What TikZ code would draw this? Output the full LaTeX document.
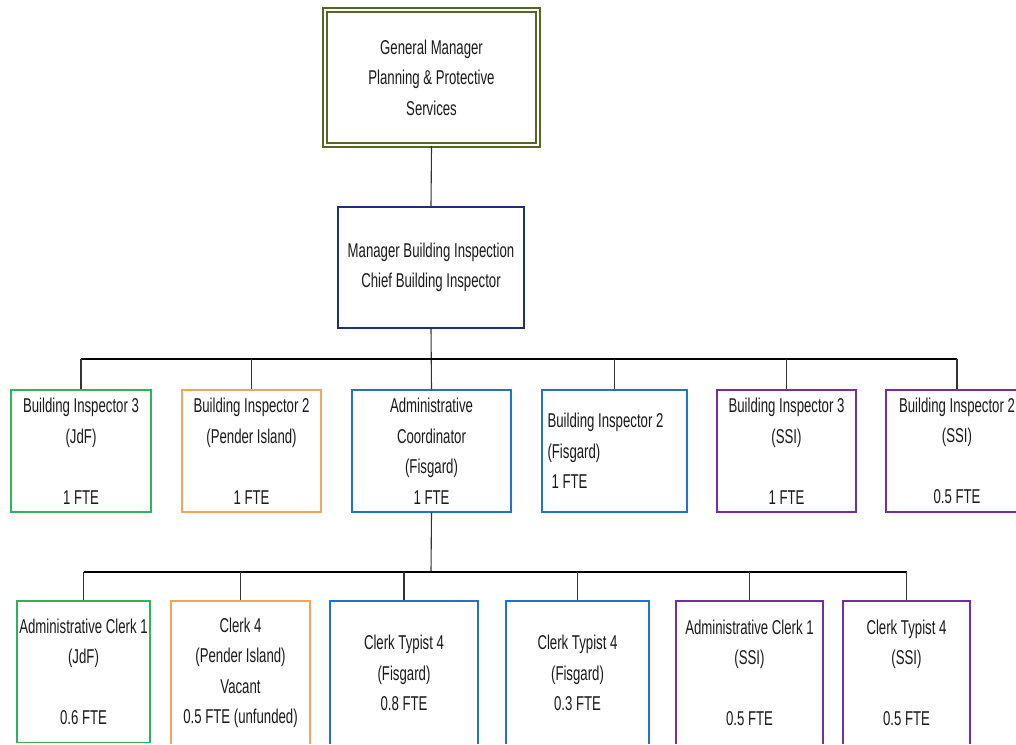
\documentclass[tikz,border=0pt]{standalone}
\usepackage{fontspec}
\setmainfont{Liberation Sans}[FakeStretch=0.66]
\definecolor{olivebox}{HTML}{566628}
\definecolor{navybox}{HTML}{1C3370}
\definecolor{greenbox}{HTML}{2DB35B}
\definecolor{orangebox}{HTML}{F7A35C}
\definecolor{bluebox}{HTML}{1F74C4}
\definecolor{purplebox}{HTML}{7030A0}
\definecolor{inktext}{HTML}{1A1A1A}
\definecolor{linkgray}{HTML}{333333}
\newcommand\orgfont{\fontsize{20}{30.5}\selectfont}
\begin{document}
\begin{tikzpicture}[x=1pt,y=-1pt,
  box/.style={draw, line width=1.4pt, fill=white, inner sep=0pt, align=center,
              font=\orgfont, text=inktext},
  lvltwo/.style={box, minimum height=122pt},
  lvlthree/.style={box, minimum height=144pt},
  plaintext/.style={inner sep=0pt, align=left, font=\orgfont, text=inktext},
  link/.style={draw=linkgray, line width=1.1pt},
  busline/.style={draw=black, line width=2.2pt},
  busthin/.style={draw=black, line width=1.6pt}]
\useasboundingbox (0,0) rectangle (1016,744);
\clip (0,0) rectangle (1016,743.4);

% top of the hierarchy
\node[box, draw=olivebox, line width=1.8pt, double=white, double distance=1.8pt,
      minimum width=213pt, minimum height=135pt] (gm) at (431.5,77.5)
  {General Manager\\Planning \& Protective\\Services};
\node[box, draw=navybox, minimum width=186pt, minimum height=121pt] (mgr) at (431,267.5)
  {Manager Building Inspection\\Chief Building Inspector};

% second level
\node[lvltwo, draw=greenbox, minimum width=140pt] (bithreejdf) at (81,451)
  {Building Inspector 3\\(JdF)\\\mbox{}\\1 FTE};
\node[lvltwo, draw=orangebox, minimum width=139pt] (bitwopen) at (251.5,451)
  {Building Inspector 2\\(Pender Island)\\\mbox{}\\1 FTE};
\node[lvltwo, draw=bluebox, minimum width=159pt] (admco) at (431.5,451)
  {Administrative\\Coordinator\\(Fisgard)\\1 FTE};
\node[lvltwo, draw=bluebox, minimum width=145pt] (bitwofis) at (614.5,451) {};
\node[plaintext, anchor=west] (bitwofistxt) at ([xshift=6pt]bitwofis.west)
  {Building Inspector 2\\(Fisgard)\\\hspace*{4pt}1 FTE};
\node[lvltwo, draw=purplebox, minimum width=139pt] (bithreessi) at (786.5,451)
  {Building Inspector 3\\(SSI)\\\mbox{}\\1 FTE};
\node[lvltwo, draw=purplebox, minimum width=142pt] (bitwossi) at (957,451)
  {Building Inspector 2\\(SSI)\\\mbox{}\\0.5 FTE};

% third level
\node[box, draw=greenbox, minimum width=133pt, minimum height=141.5pt] (acjdf) at (83.5,671.75)
  {Administrative Clerk 1\\(JdF)\\\mbox{}\\0.6 FTE};
\node[lvlthree, draw=orangebox, minimum width=139pt] (ckpen) at (240.5,673)
  {Clerk 4\\(Pender Island)\\Vacant\\0.5 FTE (unfunded)};
\node[lvlthree, draw=bluebox, minimum width=148pt] (ctfisa) at (404,673)
  {Clerk Typist 4\\(Fisgard)\\0.8 FTE};
\node[lvlthree, draw=bluebox, minimum width=143pt] (ctfisb) at (577.5,673)
  {Clerk Typist 4\\(Fisgard)\\0.3 FTE};
\node[lvlthree, draw=purplebox, minimum width=147pt] (acssi) at (749.5,673)
  {Administrative Clerk 1\\(SSI)\\\mbox{}\\0.5 FTE};
\node[lvlthree, draw=purplebox, minimum width=127pt] (ctssi) at (906.5,673)
  {Clerk Typist 4\\(SSI)\\\mbox{}\\0.5 FTE};

% bus rows
\coordinate (busone) at (431,359);
\coordinate (bustwo) at (431,572);

% connectors
\draw[link] (gm.south) -- (mgr.north);
\draw[link] (mgr.south) -- (admco.north);
\draw[busline] (bithreejdf.north |- busone) -- (bitwossi.north |- busone);
\foreach \n in {bithreejdf,bitwopen,bitwofis,bithreessi,bitwossi}
  \draw[link] (\n.north |- busone) -- (\n.north);

\draw[link] (admco.south) -- (bustwo);
\draw[busthin] (acjdf.north |- bustwo) -- (ctssi.north |- bustwo);
\foreach \n in {acjdf,ckpen,ctfisa,ctfisb,acssi,ctssi}
  \draw[link] (\n.north |- bustwo) -- (\n.north);
\end{tikzpicture}
\end{document}
